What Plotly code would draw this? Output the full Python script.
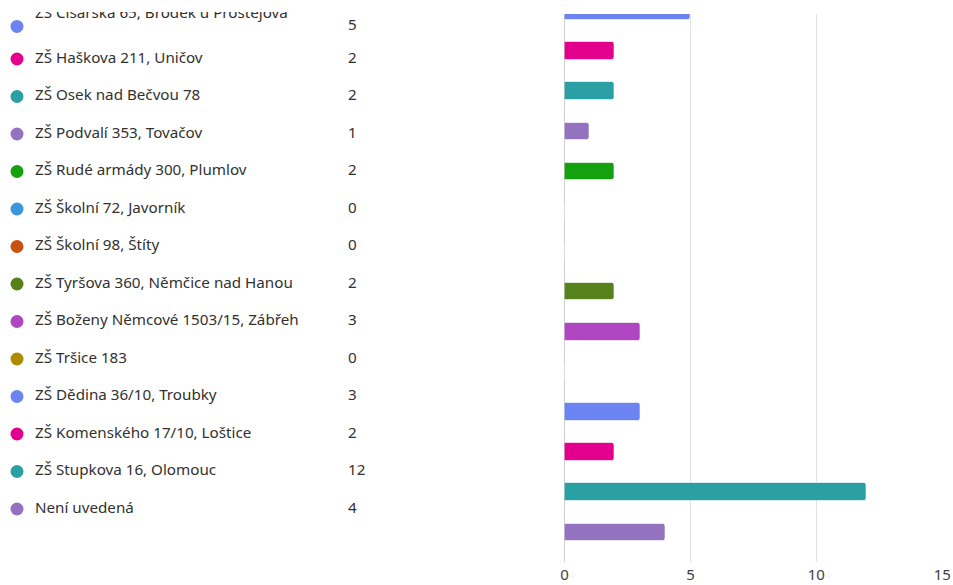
import plotly.graph_objects as go

schools = [
    "ZŠ Císařská 65, Brodek u Prostějova",
    "ZŠ Haškova 211, Uničov",
    "ZŠ Osek nad Bečvou 78",
    "ZŠ Podvalí 353, Tovačov",
    "ZŠ Rudé armády 300, Plumlov",
    "ZŠ Školní 72, Javorník",
    "ZŠ Školní 98, Štíty",
    "ZŠ Tyršova 360, Němčice nad Hanou",
    "ZŠ Boženy Němcové 1503/15, Zábřeh",
    "ZŠ Tršice 183",
    "ZŠ Dědina 36/10, Troubky",
    "ZŠ Komenského 17/10, Loštice",
    "ZŠ Stupkova 16, Olomouc",
    "Není uvedená",
]
counts = [5, 2, 2, 1, 2, 0, 0, 2, 3, 0, 3, 2, 12, 4]
colors = [
    "#6B84F2", "#E3008C", "#2AA0A4", "#9373C0", "#13A10E", "#3A96DD", "#CA5010",
    "#57811B", "#B146C2", "#AE8C00", "#6B84F2", "#E3008C", "#2AA0A4", "#9373C0",
]
x_ticks = [0, 5, 10, 15]

W, H = 953, 585
B = 23
PH = H - B  # paper height in px

rows = list(range(len(schools)))
# first row is partly scrolled off: label sits higher than its dot/count
label_y = [r - 0.2 if r == 0 else r for r in rows]
dot_y = [r + 0.13 if r == 0 else r for r in rows]

TXT = "#323130"
FONT = "Noto Sans"
FS = 15.2

fig = go.Figure()

# bars
fig.add_trace(go.Bar(
    x=counts, y=rows, orientation="h",
    marker=dict(color=colors, line=dict(color="rgba(255,255,255,0.6)", width=1),
                cornerradius=3),
    width=0.435, xaxis="x", yaxis="y", hoverinfo="skip", showlegend=False,
))

# left list: dots
fig.add_trace(go.Scatter(
    x=[17] * len(rows), y=dot_y, mode="markers",
    marker=dict(color=colors, size=13, line=dict(width=0)),
    xaxis="x2", yaxis="y2", hoverinfo="skip", showlegend=False,
))
# labels
fig.add_trace(go.Scatter(
    x=[35] * len(rows), y=label_y, mode="text", text=schools,
    textposition="middle right", textfont=dict(family=FONT, size=FS, color=TXT),
    xaxis="x2", yaxis="y2", hoverinfo="skip", showlegend=False, cliponaxis=True,
))
# counts
fig.add_trace(go.Scatter(
    x=[348] * len(rows), y=dot_y, mode="text", text=[str(c) for c in counts],
    textposition="middle right", textfont=dict(family=FONT, size=FS, color=TXT),
    xaxis="x2", yaxis="y2", hoverinfo="skip", showlegend=False, cliponaxis=True,
))

def py(px):
    return 1 - px / PH

fig.update_layout(
    width=W, height=H,
    margin=dict(l=0, r=0, t=0, b=B, pad=0),
    paper_bgcolor="white", plot_bgcolor="white",
    font=dict(family=FONT, color=TXT),
    bargap=0,
    xaxis=dict(
        domain=[564.5 / W, 942.3 / W], range=[0, 15], tickvals=x_ticks,
        showgrid=True, gridcolor="#e1e1e1", gridwidth=1,
        zeroline=True, zerolinecolor="#cfcfcf", zerolinewidth=1,
        showline=False, ticks="", tickfont=dict(family=FONT, size=15, color="#404040"),
        ticklabelstandoff=2,
        automargin=False, fixedrange=True,
    ),
    yaxis=dict(
        domain=[0, py(14)], range=[(562 - 11) / 40.1, (14 - 11) / 40.1],
        showgrid=False, zeroline=False, showticklabels=False, showline=False,
        automargin=False, fixedrange=True,
    ),
    xaxis2=dict(
        domain=[0, 560 / W], range=[0, 560], anchor="y2",
        visible=False, fixedrange=True,
    ),
    yaxis2=dict(
        domain=[0, py(12)], range=[(562 - 21.5) / 37.5, (12 - 21.5) / 37.5],
        anchor="x2", visible=False, fixedrange=True,
    ),
)

fig.write_html(
    "out.html",
    config={"displayModeBar": False},
    post_script="document.body.style.margin='0';document.body.style.overflow='hidden';",
)
